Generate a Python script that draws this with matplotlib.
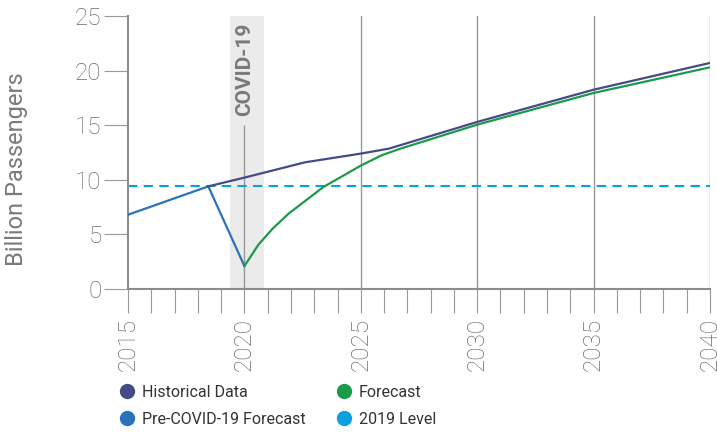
import matplotlib
matplotlib.use("Agg")
import matplotlib.pyplot as plt
from matplotlib.lines import Line2D
from matplotlib.ticker import MultipleLocator

# passenger volumes, billions
pre_covid_years = [2015, 2018.45, 2020]
pre_covid_values = [6.8, 9.4, 2.1]

historical_years = [2018.45, 2020, 2022.6, 2025, 2026.2, 2030, 2035, 2040]
historical_values = [9.4, 10.2, 11.6, 12.4, 12.85, 15.3, 18.25, 20.7]

forecast_years = [2020, 2020.6, 2021.2, 2021.9, 2022.6, 2023.4, 2024.1, 2025,
                  2025.9, 2026.7, 2030, 2035, 2040]
forecast_values = [2.1, 4.05, 5.5, 6.9, 8.05, 9.35, 10.2, 11.3,
                   12.25, 12.85, 15.05, 17.95, 20.3]

level_2019 = 9.4
covid_span = (2019.4, 2020.85)

year_ticks = [2015, 2020, 2025, 2030, 2035, 2040]
value_ticks = [0, 5, 10, 15, 20, 25]

NAVY = "#454c85"
BLUE = "#2a72bb"
GREEN = "#1a9a4a"
SKY = "#0aa0de"
GREY = "#999999"
TEXT = "#7a7a7a"

plt.rcParams["font.family"] = ["Roboto", "DejaVu Sans"]

fig = plt.figure(figsize=(7.17, 4.32), dpi=100)
ax = fig.add_axes([128 / 717, (432 - 289) / 432, (710 - 128) / 717, (289 - 16) / 432])

ax.axvspan(*covid_span, color="#ebebeb", lw=0, zorder=0)
ax.vlines(2020, 0, 15, color=GREY, lw=1, zorder=1)
for yr in year_ticks[2:]:
    ax.axvline(yr, color=GREY, lw=1, zorder=1)
ax.text(2020, 24.4, "COVID-19", rotation=90, ha="center", va="top",
        fontsize=15, fontweight="bold", color=TEXT)

ax.axhline(level_2019, color=SKY, lw=1.5, linestyle=(0, (4.5, 3)), zorder=2)
ax.plot(pre_covid_years, pre_covid_values, color=BLUE, lw=1.6, zorder=3)
ax.plot(forecast_years, forecast_values, color=GREEN, lw=1.6, zorder=3)
ax.plot(historical_years, historical_values, color=NAVY, lw=1.6, zorder=4)

ax.set_xlim(2015, 2040)
ax.set_ylim(0, 25)
ax.set_xticks(year_ticks)
ax.xaxis.set_minor_locator(MultipleLocator(1))
ax.set_yticks(value_ticks)
ax.set_xticklabels([str(y) for y in year_ticks], rotation=90)

for side in ["top", "right"]:
    ax.spines[side].set_visible(False)
for side in ["left", "bottom"]:
    ax.spines[side].set_color("#8c8c8c")
    ax.spines[side].set_linewidth(1.5)

ax.tick_params(axis="both", which="both", length=17, width=0.8, color=GREY,
               labelcolor="#6a6a6a", labelsize=17.5)
ax.tick_params(axis="x", which="both", pad=4)
ax.tick_params(axis="y", pad=2)
for lbl in ax.get_xticklabels() + ax.get_yticklabels():
    lbl.set_fontweight("light")

fig.text(17 / 717, 1 - 169 / 432, "Billion Passengers", rotation=90,
         ha="center", va="center", fontsize=17, color=TEXT)

handles = [
    Line2D([], [], marker="o", ls="", markersize=10, color=NAVY, label="Historical Data"),
    Line2D([], [], marker="o", ls="", markersize=10, color=BLUE, label="Pre-COVID-19 Forecast"),
    Line2D([], [], marker="o", ls="", markersize=10, color=GREEN, label="Forecast"),
    Line2D([], [], marker="o", ls="", markersize=10, color=SKY, label="2019 Level"),
]
fig.legend(handles=handles, ncol=2, loc="upper left",
           bbox_to_anchor=(119.4 / 717, 1 - 385 / 432), frameon=False,
           fontsize=11.5, labelcolor="#333333", handlelength=1.0,
           handletextpad=0.42, columnspacing=1.9, labelspacing=0.75,
           borderpad=0, borderaxespad=0)

fig.savefig("out.png", dpi=100)
